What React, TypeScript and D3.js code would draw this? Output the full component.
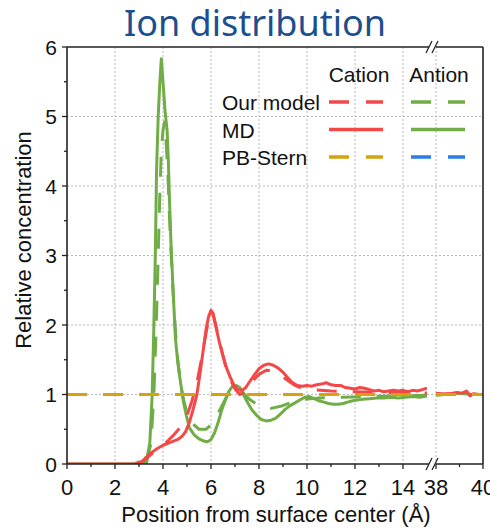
import React from "react";
import * as d3 from "d3";

type P = [number, number];

const xTicks1 = [0, 2, 4, 6, 8, 10, 12, 14];
const xTicks2 = [38, 40];
const xMinor1 = [1, 3, 5, 7, 9, 11, 13];
const xMinor2 = [39];
const yTicks = [0, 1, 2, 3, 4, 5, 6];
const yMinor = [0.5, 1.5, 2.5, 3.5, 4.5, 5.5];

const mdCation: P[] = [
  [0, 0], [1, 0], [2, 0], [2.8, 0], [3.05, 0.01], [3.25, 0.08], [3.5, 0.16], [3.75, 0.22], [4.0, 0.27],
  [4.3, 0.31], [4.6, 0.35], [4.8, 0.4], [4.95, 0.47], [5.1, 0.6], [5.25, 0.78], [5.4, 0.98], [5.5, 1.2],
  [5.6, 1.45], [5.7, 1.7], [5.8, 1.95], [5.9, 2.12], [6.0, 2.21], [6.08, 2.17], [6.2, 1.98], [6.35, 1.75],
  [6.5, 1.55], [6.65, 1.38], [6.8, 1.25], [6.95, 1.14], [7.1, 1.07], [7.3, 1.06], [7.45, 1.1], [7.6, 1.18],
  [7.8, 1.28], [8.0, 1.37], [8.2, 1.42], [8.4, 1.44], [8.6, 1.42], [8.8, 1.38], [9.0, 1.32], [9.2, 1.24],
  [9.4, 1.17], [9.6, 1.13], [9.8, 1.12], [10.0, 1.13], [10.2, 1.12], [10.4, 1.14], [10.6, 1.15], [10.8, 1.17],
  [11.0, 1.14], [11.2, 1.13], [11.4, 1.13], [11.6, 1.1], [11.8, 1.09], [12.0, 1.08], [12.2, 1.1], [12.4, 1.09],
  [12.6, 1.07], [12.8, 1.05], [13.0, 1.06], [13.2, 1.04], [13.4, 1.05], [13.6, 1.06], [13.8, 1.05], [14.0, 1.06],
  [14.2, 1.04], [14.4, 1.06], [14.6, 1.05], [14.8, 1.07], [15, 1.09],
  [38, 1.02], [38.3, 1.0], [38.6, 1.01], [38.9, 1.03], [39.1, 1.02], [39.3, 1.05], [39.45, 0.98], [39.6, 1.01],
  [39.8, 1.0], [40, 1.0],
];

const modelCation: P[] = [
  [2.9, 0], [3.2, 0.05], [3.5, 0.14], [3.8, 0.22], [4.1, 0.3], [4.4, 0.4], [4.7, 0.52], [5.0, 0.7], [5.2, 0.9],
  [5.4, 1.15], [5.6, 1.5], [5.8, 1.9], [5.95, 2.15], [6.05, 2.2], [6.2, 2.0], [6.4, 1.7], [6.6, 1.42],
  [6.8, 1.22], [7.0, 1.08], [7.2, 1.0], [7.4, 1.03], [7.6, 1.13], [7.8, 1.22], [8.0, 1.29], [8.3, 1.35],
  [8.6, 1.34], [8.9, 1.28], [9.2, 1.2], [9.5, 1.13], [9.8, 1.09], [10.2, 1.07], [11, 1.05], [12, 1.04],
  [13, 1.03], [14, 1.02], [15, 1.02],
  [38, 1.01], [40, 1.0],
];

const mdAnion: P[] = [
  [0, 0], [2.8, 0], [3.0, 0.03], [3.2, 0.02], [3.3, 0.03], [3.45, 0.3], [3.55, 1.0], [3.62, 2.0], [3.68, 3.0],
  [3.73, 4.2], [3.8, 5.0], [3.87, 5.5], [3.93, 5.83], [4.0, 5.5], [4.08, 5.1], [4.17, 4.8], [4.22, 4.4],
  [4.27, 3.8], [4.33, 3.2], [4.42, 2.5], [4.52, 1.8], [4.62, 1.45], [4.72, 1.2], [4.85, 0.9], [4.97, 0.7],
  [5.1, 0.52], [5.3, 0.42], [5.5, 0.36], [5.7, 0.33], [5.85, 0.32], [6.0, 0.35], [6.15, 0.45], [6.3, 0.6],
  [6.45, 0.78], [6.6, 0.92], [6.75, 1.05], [6.9, 1.12], [7.05, 1.13], [7.2, 1.1], [7.35, 1.0], [7.5, 0.9],
  [7.7, 0.78], [7.9, 0.7], [8.1, 0.64], [8.3, 0.62], [8.5, 0.63], [8.7, 0.66], [8.9, 0.72], [9.1, 0.79],
  [9.3, 0.84], [9.5, 0.88], [9.7, 0.92], [9.9, 0.96], [10.1, 0.97], [10.3, 0.94], [10.5, 0.91], [10.7, 0.89],
  [10.9, 0.87], [11.1, 0.86], [11.3, 0.86], [11.5, 0.87], [11.7, 0.89], [11.9, 0.91], [12.1, 0.92],
  [12.3, 0.93], [12.6, 0.94], [12.9, 0.95], [13.2, 0.95], [13.5, 0.96], [13.8, 0.95], [14.1, 0.96],
  [14.4, 0.97], [14.7, 0.96], [15, 0.98],
  [38, 0.99], [38.4, 1.0], [38.8, 1.02], [39.2, 1.01], [39.6, 1.0], [40, 1.0],
];

const modelAnion: P[] = [
  [3.3, 0.0], [3.5, 0.3], [3.62, 1.0], [3.72, 2.0], [3.8, 3.0], [3.87, 3.9], [3.93, 4.5], [4.0, 4.8],
  [4.06, 4.92], [4.12, 4.7], [4.2, 4.2], [4.3, 3.3], [4.4, 2.6], [4.5, 2.0], [4.6, 1.55], [4.7, 1.25],
  [4.82, 0.98], [4.95, 0.8], [5.1, 0.66], [5.3, 0.56], [5.5, 0.5], [5.8, 0.5], [6.1, 0.6], [6.4, 0.8],
  [6.7, 1.0], [7.0, 1.1], [7.3, 1.04], [7.6, 0.93], [7.9, 0.86], [8.2, 0.81], [8.5, 0.8], [8.9, 0.83],
  [9.3, 0.88], [9.8, 0.93], [10.5, 0.95], [11.5, 0.96], [12.5, 0.97], [13.5, 0.98], [15, 0.99],
  [38, 1.0], [40, 1.0],
];

const pbCation: P[] = [[0, 1], [15, 1], [38, 1], [40, 1]];
const pbAnion: P[] = [[0, 1], [15, 1], [38, 1], [40, 1]];

const legendCols = ["Cation", "Antion"];
const legendRows = ["Our model", "MD", "PB-Stern"];

const RED = "#f44848";
const GREEN = "#70ad47";
const ORANGE = "#d6a20f";
const BLUE = "#2a7de1";
const DASH = "20,16";

const FONT = "'Liberation Sans', Arial, sans-serif";

export default function App() {
  const L = 67, R = 483, T = 47, B = 464;
  const x1 = d3.scaleLinear().domain([0, 15]).range([L, 427]);
  const x2 = d3.scaleLinear().domain([38, 40]).range([436, R]);
  const y = d3.scaleLinear().domain([0, 6]).range([B, T]);

  const line1 = d3.line<P>().x((d) => x1(d[0])).y((d) => y(d[1]));
  const line2 = d3.line<P>().x((d) => x2(d[0])).y((d) => y(d[1]));

  const seg = (data: P[], color: string, dashed: boolean, key: string) => {
    const a = data.filter((d) => d[0] <= 15);
    const b = data.filter((d) => d[0] >= 38);
    const common = {
      fill: "none",
      stroke: color,
      strokeWidth: 3,
      strokeLinejoin: "round" as const,
      strokeDasharray: dashed ? DASH : undefined,
    };
    return (
      <g key={key}>
        {a.length > 1 && <path d={line1(a) || ""} {...common} clipPath="url(#c1)" />}
        {b.length > 1 && <path d={line2(b) || ""} {...common} clipPath="url(#c2)" />}
      </g>
    );
  };

  const gridX = [...xTicks1.filter((v) => v > 0).map((v) => x1(v)), ...xTicks2.filter((v) => v < 40).map((v) => x2(v))];
  const breakXs = [429, 435];

  const legendSamples = [
    { c: RED, dashed: true }, { c: GREEN, dashed: true },
    { c: RED, dashed: false }, { c: GREEN, dashed: false },
    { c: ORANGE, dashed: true }, { c: BLUE, dashed: true },
  ];
  const rowY = [102, 129.5, 157];
  const colX = [329, 411];

  return (
    <svg width={490} height={532} style={{ position: "absolute", left: 0, top: 0 }} fontFamily={FONT}>
      <defs>
        <clipPath id="c1"><rect x={L} y={T - 5} width={427 - L} height={B - T + 5} /></clipPath>
        <clipPath id="c2"><rect x={436} y={T - 5} width={R - 436} height={B - T + 5} /></clipPath>
      </defs>
      <rect width={490} height={532} fill="#fff" />
      <text x={255} y={36} textAnchor="middle" fontFamily="'Noto Sans', 'Open Sans', sans-serif" fontSize={36} fill="#1b4f8f">
        Ion distribution
      </text>

      {/* grid */}
      {gridX.map((gx, i) => (
        <line key={"gx" + i} x1={gx} x2={gx} y1={T} y2={B} stroke="#b8b8b8" strokeWidth={1} strokeDasharray="2,2" />
      ))}
      {yTicks.filter((v) => v > 0 && v < 6).map((v) => (
        <line key={"gy" + v} x1={L} x2={R} y1={y(v)} y2={y(v)} stroke="#b8b8b8" strokeWidth={1} strokeDasharray="2,2" />
      ))}

      {/* data */}
      {seg(pbAnion, BLUE, true, "pba")}
      {seg(mdAnion, GREEN, false, "mda")}
      {seg(modelAnion, GREEN, true, "moa")}
      {seg(modelCation, RED, true, "moc")}
      {seg(mdCation, RED, false, "mdc")}
      {seg(pbCation, ORANGE, true, "pbc")}

      {/* frame */}
      <g stroke="#222" strokeWidth={1.6} fill="none">
        <line x1={L} x2={L} y1={T} y2={B} />
        <line x1={R} x2={R} y1={T} y2={B} />
        <line x1={L} x2={breakXs[0]} y1={B} y2={B} />
        <line x1={breakXs[1] + 1} x2={R} y1={B} y2={B} />
        <line x1={L} x2={breakXs[0]} y1={T} y2={T} />
        <line x1={breakXs[1] + 1} x2={R} y1={T} y2={T} />
        {[T, B].map((yy) =>
          breakXs.map((bx) => (
            <line key={"br" + yy + bx} x1={bx - 3} x2={bx + 3} y1={yy + 6} y2={yy - 6} strokeWidth={1.3} />
          ))
        )}
      </g>

      {/* ticks */}
      <g stroke="#222" strokeWidth={1.3}>
        {yTicks.map((v) => <line key={"yt" + v} x1={L - 5} x2={L} y1={y(v)} y2={y(v)} />)}
        {yMinor.map((v) => <line key={"ym" + v} x1={L - 3} x2={L} y1={y(v)} y2={y(v)} />)}
        {xTicks1.map((v) => <line key={"xt" + v} x1={x1(v)} x2={x1(v)} y1={B} y2={B + 5} />)}
        {xTicks2.map((v) => <line key={"xt2" + v} x1={x2(v)} x2={x2(v)} y1={B} y2={B + 5} />)}
        {xMinor1.map((v) => <line key={"xm" + v} x1={x1(v)} x2={x1(v)} y1={B} y2={B + 3} />)}
        {xMinor2.map((v) => <line key={"xm2" + v} x1={x2(v)} x2={x2(v)} y1={B} y2={B + 3} />)}
      </g>

      {/* tick labels */}
      <g fontSize={21} fill="#111">
        {yTicks.map((v) => (
          <text key={"yl" + v} x={57} y={y(v) + 7.5} textAnchor="end">{v}</text>
        ))}
        {xTicks1.map((v) => (
          <text key={"xl" + v} x={x1(v)} y={495} textAnchor="middle" fontSize={22}>{v}</text>
        ))}
        {xTicks2.map((v) => (
          <text key={"xl2" + v} x={x2(v)} y={495} textAnchor="middle" fontSize={22}>{v}</text>
        ))}
      </g>

      {/* axis titles */}
      <text x={276} y={522} textAnchor="middle" fontSize={22} fill="#111">Position from surface center (Å)</text>
      <text transform="translate(31,240) rotate(-90)" textAnchor="middle" fontSize={22} fill="#111">Relative concentration</text>

      {/* legend */}
      <g fontSize={21} fill="#111">
        {legendCols.map((c, i) => (
          <text key={c} x={colX[i] + 27 + (i === 0 ? 3 : 1)} y={81.5} textAnchor="middle">{c}</text>
        ))}
        {legendRows.map((r, i) => (
          <text key={r} x={222} y={rowY[i] + 8} >{r}</text>
        ))}
        {legendSamples.map((s, k) => {
          const row = Math.floor(k / 2), col = k % 2;
          return (
            <line key={"ls" + k} x1={colX[col]} x2={colX[col] + 54} y1={rowY[row]} y2={rowY[row]}
              stroke={s.c} strokeWidth={3.5} strokeDasharray={s.dashed ? "20,17" : undefined} />
          );
        })}
      </g>
    </svg>
  );
}
